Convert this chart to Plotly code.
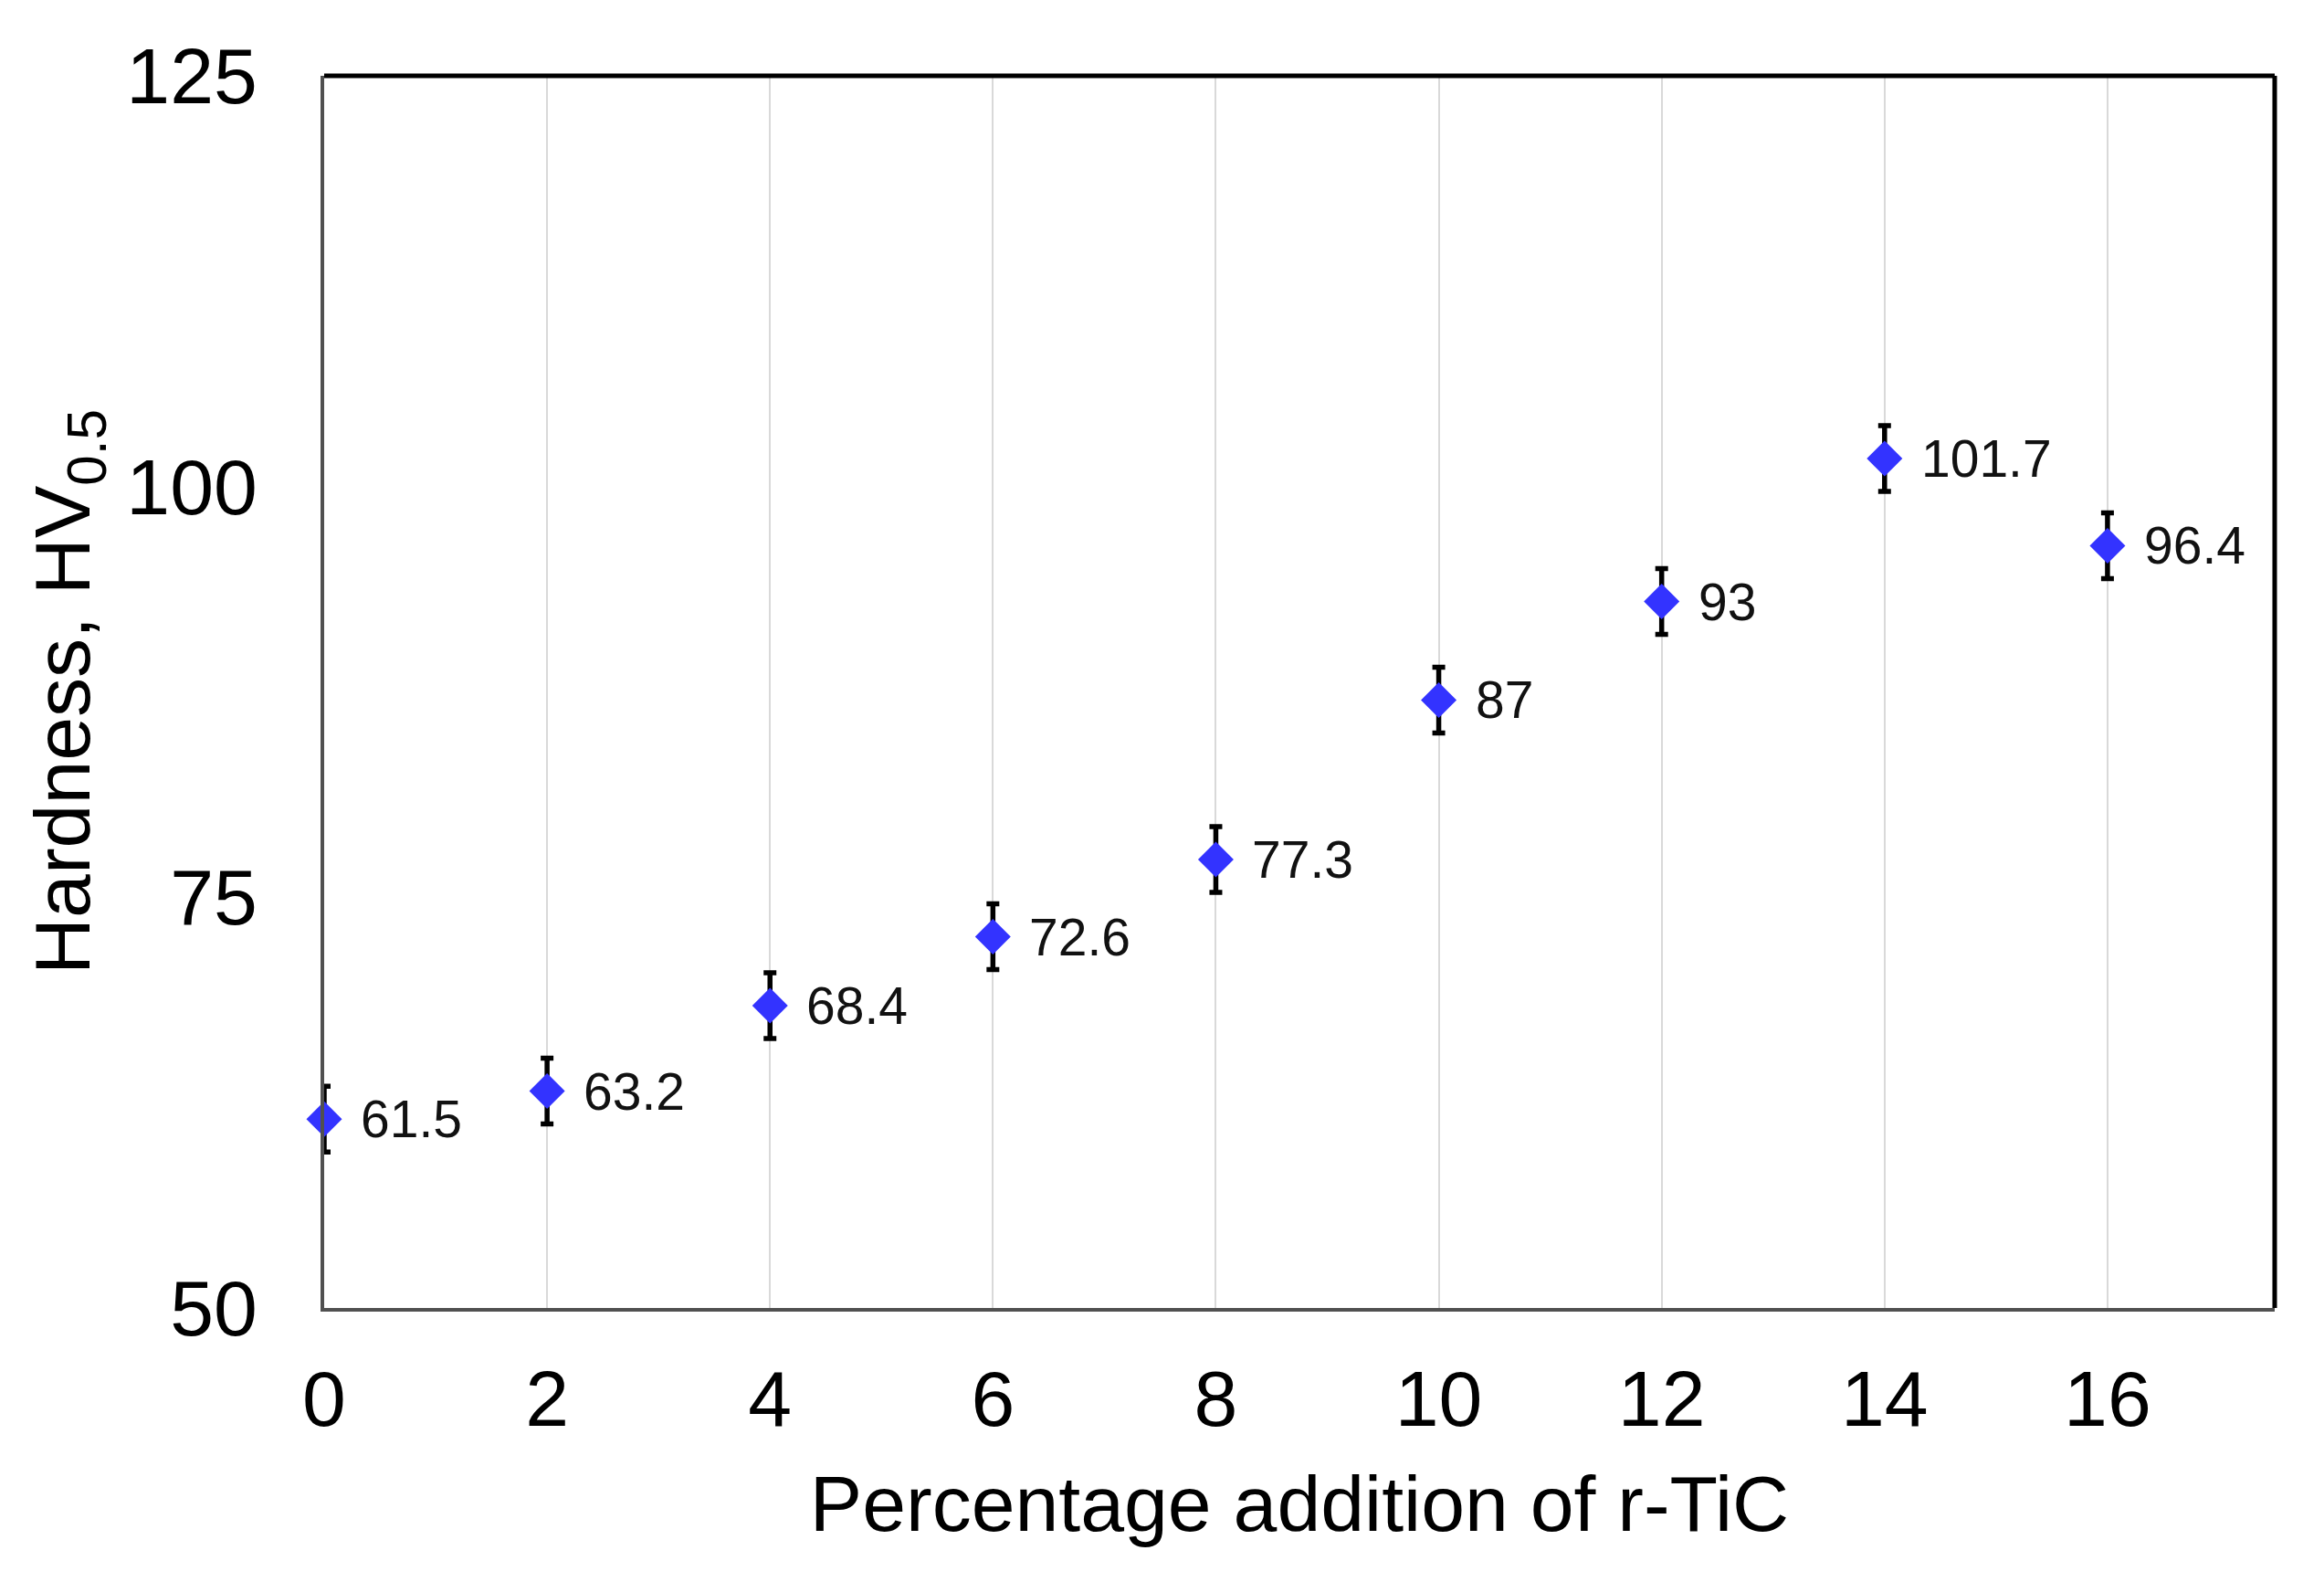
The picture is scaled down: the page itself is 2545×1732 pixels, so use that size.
import plotly.graph_objects as go

# Data
tic_pct = [0, 2, 4, 6, 8, 10, 12, 14, 16]
hardness = [61.5, 63.2, 68.4, 72.6, 77.3, 87, 93, 101.7, 96.4]
hardness_err = [2.0, 2.0, 2.0, 2.0, 2.0, 2.0, 2.0, 2.0, 2.0]
label_text = ["61.5", "63.2", "68.4", "72.6", "77.3", "87", "93", "101.7", "96.4"]
x_ticks = [0, 2, 4, 6, 8, 10, 12, 14, 16]
y_ticks = [50, 75, 100, 125]

FONT = "Liberation Sans, Arial, sans-serif"

fig = go.Figure()
fig.add_trace(go.Scatter(
    x=tic_pct, y=hardness, mode="markers",
    marker=dict(symbol="diamond", size=30, color="#3333FF", line=dict(width=0)),
    error_y=dict(type="data", array=hardness_err, visible=True,
                 color="black", thickness=5.5, width=7),
    showlegend=False, cliponaxis=False,
))

for xv, yv, t in zip(tic_pct, hardness, label_text):
    fig.add_annotation(x=xv, y=yv, text=t, showarrow=False,
                       xanchor="left", yanchor="middle", xshift=38,
                       font=dict(family=FONT, size=57, color="#111111"))

fig.update_layout(
    width=2545, height=1732,
    margin=dict(l=347, r=62, t=75, b=308),
    plot_bgcolor="white", paper_bgcolor="white",
    font=dict(family=FONT, color="black"),
    xaxis=dict(
        range=[0, 17.5], tickvals=x_ticks, ticktext=[str(v) for v in x_ticks],
        showgrid=True, gridcolor="#d9d9d9", gridwidth=2,
        showline=True, linecolor="#505050", linewidth=4,
        zeroline=False, ticks="", tickfont=dict(size=86, family=FONT),
        ticklabelstandoff=22,
        title=dict(text="Percentage addition of r-TiC", font=dict(size=86, family=FONT), standoff=39),
        automargin=False,
    ),
    yaxis=dict(
        range=[50, 125], tickvals=y_ticks, ticktext=[str(v) for v in y_ticks],
        showgrid=False,
        showline=True, linecolor="#505050", linewidth=4,
        zeroline=False, ticks="", tickfont=dict(size=86, family=FONT),
        ticklabelstandoff=52,
        title=dict(text="Hardness, HV<sub>0.5</sub>", font=dict(size=86, family=FONT), standoff=12),
        automargin=False,
    ),
    shapes=[
        dict(type="line", xref="paper", yref="paper", x0=0, x1=1, y0=1, y1=1,
             line=dict(color="black", width=5)),
        dict(type="line", xref="paper", yref="paper", x0=1, x1=1, y0=0, y1=1,
             line=dict(color="black", width=5)),
    ],
)

fig.write_html("out.html")
